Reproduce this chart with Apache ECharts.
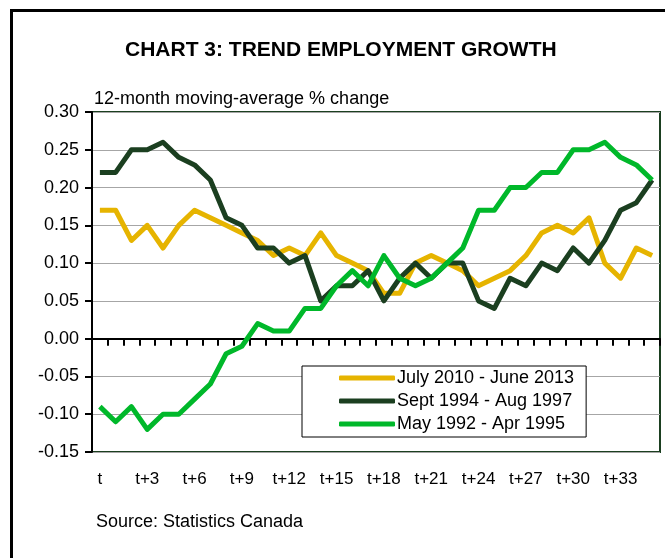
<!DOCTYPE html>
<html>
<head>
    <meta charset="utf-8">
    <title>Trend Employment Growth</title>
    <script src="https://cdn.jsdelivr.net/npm/echarts@6/dist/echarts.min.js"></script>
</head>
<body style="margin:0; background:#fff;">
    <div id="div_chart" style="width: 665px; height:558px;"></div>

    <script type="text/javascript">
        var months = [];
        for (var i = 0; i < 36; i++) {
            months.push(i === 0 ? 't' : 't+' + i);
        }

        var july2010 = [0.17, 0.17, 0.13, 0.15, 0.12, 0.15, 0.17, 0.16, 0.15, 0.14, 0.13, 0.11,
                        0.12, 0.11, 0.14, 0.11, 0.10, 0.09, 0.06, 0.06, 0.10, 0.11, 0.10, 0.09,
                        0.07, 0.08, 0.09, 0.11, 0.14, 0.15, 0.14, 0.16, 0.10, 0.08, 0.12, 0.11];
        var sept1994 = [0.22, 0.22, 0.25, 0.25, 0.26, 0.24, 0.23, 0.21, 0.16, 0.15, 0.12, 0.12,
                        0.10, 0.11, 0.05, 0.07, 0.07, 0.09, 0.05, 0.08, 0.10, 0.08, 0.10, 0.10,
                        0.05, 0.04, 0.08, 0.07, 0.10, 0.09, 0.12, 0.10, 0.13, 0.17, 0.18, 0.21];
        var may1992 = [-0.09, -0.11, -0.09, -0.12, -0.10, -0.10, -0.08, -0.06, -0.02, -0.01, 0.02, 0.01,
                       0.01, 0.04, 0.04, 0.07, 0.09, 0.07, 0.11, 0.08, 0.07, 0.08, 0.10, 0.12,
                       0.17, 0.17, 0.20, 0.20, 0.22, 0.22, 0.25, 0.25, 0.26, 0.24, 0.23, 0.21];

        var seriesNames = ['July 2010 - June 2013', 'Sept 1994 - Aug 1997', 'May 1992 - Apr 1995'];
        var seriesColors = ['#e6b400', '#1b3f20', '#00b82a'];
        var seriesData = [july2010, sept1994, may1992];

        var font = 'Liberation Sans, Arial, sans-serif';
        var myChart = echarts.init(document.getElementById('div_chart'));

        myChart.setOption({
            animation: false,
            textStyle: { fontFamily: font },
            title: [
                {
                    text: 'CHART 3: TREND EMPLOYMENT GROWTH',
                    left: 120,
                    top: 35,
                    textStyle: { fontSize: 21, fontWeight: 'bold', color: '#000', fontFamily: font }
                },
                {
                    text: 'Source: Statistics Canada',
                    left: 91,
                    top: 508,
                    textStyle: { fontSize: 18, fontWeight: 'normal', color: '#000', fontFamily: font }
                }
            ],
            graphic: [
                {
                    type: 'rect',
                    shape: { x: 11.5, y: 10.5, width: 700, height: 600 },
                    style: { fill: 'none', stroke: '#000', lineWidth: 3 },
                    silent: true
                }
            ],
            legend: {
                orient: 'vertical',
                left: 302,
                top: 366,
                data: seriesNames,
                icon: 'roundRect',
                itemWidth: 56,
                itemHeight: 5,
                itemGap: 3,
                padding: [2, 12, 3, 37],
                borderColor: '#000',
                borderWidth: 1,
                backgroundColor: '#fff',
                textStyle: { fontSize: 18, color: '#000', lineHeight: 20, padding: [0, 0, 0, -3] }
            },
            grid: {
                left: 92,
                top: 112,
                right: 5,
                height: 340,
                outerBoundsMode: 'none',
                containLabel: false,
                show: true,
                borderColor: '#1b3f20',
                borderWidth: 2
            },
            xAxis: {
                type: 'category',
                data: months,
                boundaryGap: true,
                axisLine: { onZero: true, lineStyle: { color: '#000', width: 2 } },
                axisTick: { show: true, interval: 0, length: 7, lineStyle: { color: '#000', width: 2 } },
                axisLabel: { interval: 2, margin: 19, fontSize: 17, color: '#000' },
                splitLine: { show: false }
            },
            yAxis: {
                type: 'value',
                min: -0.15,
                max: 0.30,
                interval: 0.05,
                name: '12-month moving-average % change',
                nameLocation: 'end',
                nameGap: 4,
                nameTextStyle: { align: 'left', fontSize: 18, color: '#000', padding: [0, 0, 0, 2] },
                axisLine: { show: true, lineStyle: { color: '#000', width: 2 } },
                axisTick: { show: true, length: 7, lineStyle: { color: '#000', width: 2 } },
                axisLabel: {
                    fontSize: 18, color: '#000', margin: 13,
                    formatter: function (v) { return v.toFixed(2); }
                },
                splitLine: { show: true, lineStyle: { color: '#a6a6a6', width: 1 } }
            },
            series: seriesData.map(function (d, k) {
                return {
                    name: seriesNames[k],
                    type: 'line',
                    data: d,
                    symbol: 'none',
                    color: seriesColors[k],
                    lineStyle: { width: 5, color: seriesColors[k], join: 'round' }
                };
            })
        });
    </script>
</body>
</html>
